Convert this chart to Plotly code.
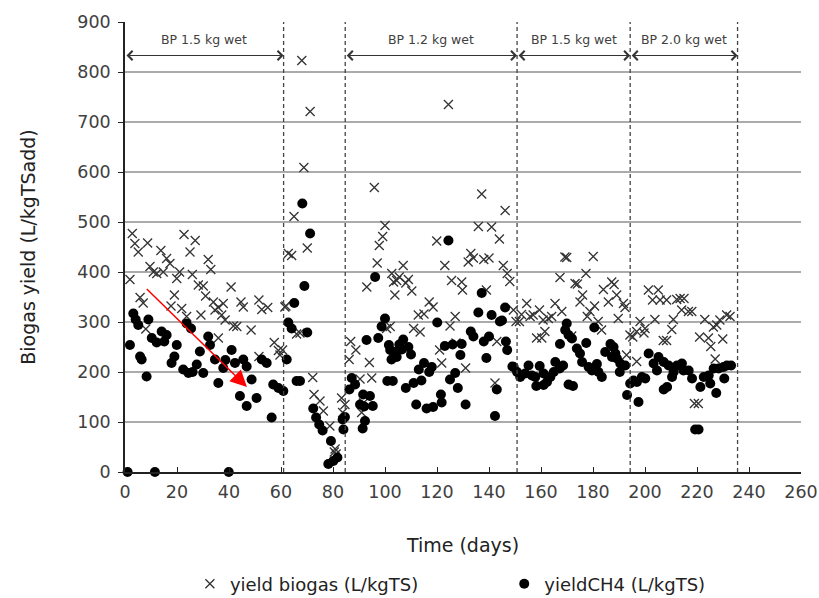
import plotly.graph_objects as go

# ---------------- data ----------------
biogas_day = [
    1.9, 2.8, 3.8, 5.1, 5.8, 7.0, 8.0, 8.7, 9.6, 10.9, 12.2, 13.8, 14.7, 16.0, 17.3, 17.7,
    19.0, 19.9, 21.0, 21.8, 22.7, 23.7, 25.0, 25.9, 27.0, 28.2, 29.2, 30.1, 31.0, 32.0, 33.0,
    34.0, 34.6, 35.9, 35.9, 37.2, 37.8, 38.5, 40.8, 41.7, 43.0, 44.6, 45.5, 48.5, 51.5, 51.5,
    52.6, 54.9, 57.4, 59.0, 59.6, 60.6, 61.5,
    61.9, 62.8, 64.1, 65.0, 66.0, 67.3, 68.0, 68.8, 70.1, 71.2, 72.2, 72.7, 75.0, 76.3, 78.8,
    80.5, 80.8, 81.2, 83.3, 83.7, 84.6,
    86.2, 86.8, 88.8, 90.4, 91.0, 91.7, 93.0, 94.0, 94.9, 95.9, 97.0, 97.8, 99.1, 100.0, 100.6,
    102.0, 102.6, 103.3, 103.8, 104.5, 105.5, 107.0, 108.0, 109.0, 110.3, 111.0, 112.8, 113.5,
    115.0, 117.0, 118.5, 119.9, 121.0, 121.8, 123.0, 124.4, 125.0, 125.6, 127.0, 127.3, 129.5,
    129.8, 131.0, 132.0, 133.0, 134.0, 135.9, 137.2, 138.0, 139.0, 140.0, 141.0, 142.3, 143.0,
    144.0, 145.5, 146.2, 147.0, 148.0, 149.4, 150.4,
    151.7, 152.5, 154.5, 155.8, 157.0, 158.3, 159.4, 160.3, 160.8, 161.5, 162.8, 164.1, 165.4,
    167.3, 168.0, 169.2, 169.9, 171.8, 173.1, 174.0, 175.0, 176.0, 177.3, 177.8, 178.8, 180.1,
    180.6, 182.0, 183.3, 184.0, 185.9, 187.2, 188.1, 189.1, 189.7, 191.7, 192.3, 192.9, 194.2,
    195.3, 196.8, 196.8, 198.1, 199.6, 200.0, 201.3, 202.9, 203.8, 205.1, 205.8, 207.0, 208.3,
    208.3, 210.3, 210.9, 212.2, 213.5, 214.1, 215.0, 216.7, 218.0, 219.0, 220.5, 221.0, 223.0,
    224.4, 225.3, 226.3, 227.0, 227.6, 228.8, 229.9, 231.4, 232.7,
]
biogas_yield = [
    385, 477, 457, 440, 349, 338, 286, 458, 411, 400, 397, 443, 400, 427, 417, 332,
    354, 387, 400, 327, 475, 311, 440, 395, 463, 374, 314, 372, 352, 425, 405,
    340, 324, 329, 268, 314, 337, 304, 370, 292, 291, 340, 330, 284, 344, 231,
    325, 329, 259, 243, 234, 244, 330,
    332, 437, 433, 511, 276, 278, 823, 609, 448, 721, 189, 155, 142, 122, 92,
    40, 46, 36, 148, 119, 135,
    225, 261, 244, 186, 119, 138, 370, 219, 188, 569, 418, 453, 471, 493, 287,
    291, 397, 380, 354, 383, 390, 413, 378, 385, 362, 287, 314, 280,
    316, 340, 330, 462, 244, 218, 413, 735, 292, 383, 311, 258, 380,
    364, 208, 420, 437, 428, 491, 556, 425, 364, 428, 490, 178, 261,
    466, 413, 523, 397, 381, 324, 301,
    301, 315, 337, 311, 314, 268, 324, 268, 304, 281, 307, 311, 337,
    389, 321, 430, 429, 272, 377, 376, 340, 354, 397, 311, 321, 431,
    332, 301, 284, 365, 340, 380, 375, 354, 307, 337, 329, 234, 274,
    270, 281, 221, 301, 278, 287, 364, 344, 305, 364, 344, 263, 344,
    263, 285, 305, 345, 347, 324, 347, 321, 321, 137, 137, 270, 305,
    268, 251, 290, 226, 294, 304, 266, 314, 311,
]

ch4_day = [
    1.0, 1.9, 3.2, 4.1, 5.1, 5.8, 6.4, 8.3, 9.0, 10.3, 11.5, 12.2, 14.1, 15.1, 16.0, 17.9,
    19.0, 19.9, 22.4, 23.7, 24.4, 25.4, 26.0, 27.6, 28.8, 30.1, 32.0, 32.7, 34.6, 35.9, 37.8,
    38.6, 39.9, 41.0, 42.3, 44.2, 45.5, 46.8, 46.8, 48.7, 50.6, 52.6, 54.5, 56.4, 57.0, 59.0,
    60.9,
    62.2, 62.8, 64.1, 65.1, 66.0, 67.3, 68.2, 69.0, 70.1, 71.2, 72.4, 73.5, 74.7, 76.0, 78.2,
    79.2, 80.1, 81.7, 83.7, 84.0, 84.6,
    86.3, 87.2, 88.5, 90.4, 91.4, 91.6, 92.0, 92.3, 92.9, 94.2, 95.3, 96.2, 97.4, 98.7, 100.0,
    100.9, 101.5, 102.0, 102.5, 103.0, 103.5, 104.5, 105.5, 106.5, 107.0, 108.0, 109.0, 110.0,
    111.0, 112.0, 113.0, 114.0, 115.0, 116.0, 117.0, 118.0, 118.5, 120.1, 121.5, 121.8, 123.0,
    124.4, 125.0, 126.0, 127.0, 128.0, 129.0, 129.5, 131.0, 133.0, 134.0, 135.9, 137.2, 138.0,
    139.0, 140.0, 141.0, 142.3, 143.0, 144.2, 145.0, 146.2, 146.5, 147.0, 149.0,
    149.5, 150.8, 152.0, 153.9, 155.2, 156.5, 157.8, 158.2, 159.5, 161.0, 161.0, 162.3, 163.6,
    164.9, 165.5, 167.2, 167.3, 168.5, 169.3, 169.9, 170.6, 170.6, 171.9, 172.3, 173.8, 175.0,
    175.8, 177.4, 178.3, 179.6, 180.5, 181.5, 182.1, 183.4, 184.7, 186.7, 187.3, 187.9, 188.6,
    189.2, 190.3, 190.5, 192.4,
    193.1, 194.3, 195.6, 196.9, 197.5, 198.8, 200.1, 201.4, 203.3, 204.6, 205.2, 207.2, 207.2,
    208.5, 209.1, 210.4, 211.0, 212.3, 214.2, 214.8, 216.8, 218.1, 219.3, 220.6, 221.3, 222.6,
    224.5, 225.1, 226.4, 227.4, 228.3, 230.2, 230.5, 231.5, 233.1,
]
ch4_yield = [
    0, 254, 317, 305, 294, 231, 225, 191, 305, 268, 0, 259, 281, 261, 274, 218,
    231, 254, 205, 297, 198, 287, 200, 215, 241, 198, 271, 254, 225, 178, 208,
    224, 0, 244, 218, 152, 225, 211, 132, 185, 148, 225, 218, 109, 175, 168,
    162,
    225, 299, 287, 338, 182, 182, 537, 372, 279, 477, 127, 109, 95, 83, 16,
    62, 22, 29, 105, 85, 110,
    165, 188, 175, 135, 87, 155, 131, 102, 264, 152, 132, 390, 268, 291, 307,
    182, 254, 244, 225, 182, 240, 230, 255, 245, 265, 168, 250, 235,
    178, 135, 205, 183, 218, 127, 200, 210, 130, 299, 155, 139, 252,
    463, 185, 255, 198, 168, 234, 256, 135, 281, 271, 319, 358, 261,
    228, 271, 314, 112, 165, 301, 303, 329, 261, 244, 211,
    210, 200, 190, 197, 213, 193, 190, 172, 212, 197, 174, 180, 190,
    200, 220, 207, 256, 213, 284, 297, 274, 175, 267, 172, 247, 237,
    220, 258, 210, 203, 289, 216, 200, 190, 240, 256, 230, 250, 237,
    227, 200, 217, 213,
    154, 177, 183, 180, 140, 190, 187, 237, 217, 203, 230, 220, 165,
    170, 213, 190, 200, 213, 217, 203, 203, 187, 85, 85, 170, 190,
    193, 177, 207, 158, 207, 210, 187, 213, 213,
]

period_labels = ["BP 1.5 kg wet", "BP 1.2 kg wet", "BP 1.5 kg wet", "BP 2.0 kg wet"]
period_start = [0, 84.7, 150.8, 194.3]
period_end = [61, 150.8, 194.3, 235.6]
divider_days = [61, 84.7, 150.8, 194.3, 235.6]
period_arrow_level = 833
period_label_level = 865

trend_start = (7.8, 369)
trend_end = (46.9, 170)

x_ticks = list(range(0, 261, 20))
y_ticks = list(range(0, 901, 100))

FONT = "DejaVu Sans"
TXT = "#404040"

# ---------------- figure ----------------
fig = go.Figure()

fig.add_trace(go.Scatter(
    x=biogas_day, y=biogas_yield, mode="markers", name="yield biogas (L/kgTS)",
    marker=dict(symbol="x-thin", size=9, color="#333333",
                line=dict(width=1.3, color="#333333")),
    cliponaxis=False, legend="legend",
))
fig.add_trace(go.Scatter(
    x=ch4_day, y=ch4_yield, mode="markers", name="yieldCH4 (L/kgTS)",
    marker=dict(symbol="circle", size=10, color="#000000", line=dict(width=0)),
    cliponaxis=False, legend="legend2",
))

for d in divider_days:
    fig.add_shape(type="line", xref="x", yref="y", x0=d, x1=d, y0=0, y1=900,
                  line=dict(color="#444444", width=1.3, dash="4px,3px"), layer="above")

for lab, s, e in zip(period_labels, period_start, period_end):
    fig.add_annotation(x=e, y=period_arrow_level, ax=s, ay=period_arrow_level,
                       xref="x", yref="y", axref="x", ayref="y", text="",
                       showarrow=True, arrowhead=4, startarrowhead=4, arrowside="end+start",
                       arrowsize=1.5, startarrowsize=1.5, arrowwidth=1.2, arrowcolor="#333333",
                       standoff=0, startstandoff=0)
    fig.add_annotation(x=(s + e) / 2, y=period_label_level, xref="x", yref="y",
                       text=lab, showarrow=False,
                       font=dict(family=FONT, size=12.5, color=TXT))

fig.add_annotation(x=trend_end[0], y=trend_end[1], ax=trend_start[0], ay=trend_start[1],
                   xref="x", yref="y", axref="x", ayref="y", text="",
                   showarrow=True, arrowhead=2, arrowsize=2.2, arrowwidth=1.5,
                   arrowcolor="#ff0000", standoff=0)

legend_common = dict(orientation="h", xanchor="left", y=-0.249, yanchor="middle",
                     font=dict(family=FONT, size=18, color="#222222"),
                     bgcolor="rgba(0,0,0,0)")

fig.update_layout(
    width=819, height=598,
    margin=dict(l=125, r=18, t=22, b=126, autoexpand=False),
    plot_bgcolor="white", paper_bgcolor="white",
    font=dict(family=FONT, size=17, color=TXT),
    showlegend=True,
    legend=dict(x=0.096, **legend_common),
    legend2=dict(x=0.561, **legend_common),
)
fig.update_xaxes(
    range=[0, 260], tickvals=x_ticks, ticktext=[str(v) for v in x_ticks],
    showline=True, linecolor="#222222", linewidth=1.5,
    ticks="inside", ticklen=5, tickcolor="#222222", tickwidth=1.2,
    showgrid=False, zeroline=False, ticklabelstandoff=3,
    tickfont=dict(family=FONT, size=17.5, color=TXT),
    title=dict(text="Time (days)", font=dict(family=FONT, size=19, color="#222222"), standoff=38),
)
fig.update_yaxes(
    range=[0, 900], tickvals=y_ticks, ticktext=[str(v) for v in y_ticks],
    showline=True, linecolor="#222222", linewidth=1.5,
    ticks="outside", ticklen=5, tickcolor="#222222", tickwidth=1.2,
    showgrid=True, gridcolor="#ababab", gridwidth=1.5, zeroline=False, ticklabelstandoff=4,
    tickfont=dict(family=FONT, size=17.5, color=TXT),
    title=dict(text="Biogas yield (L/kgTSadd)", font=dict(family=FONT, size=19, color="#222222"),
               standoff=37),
)

fig.write_html("out.html")
